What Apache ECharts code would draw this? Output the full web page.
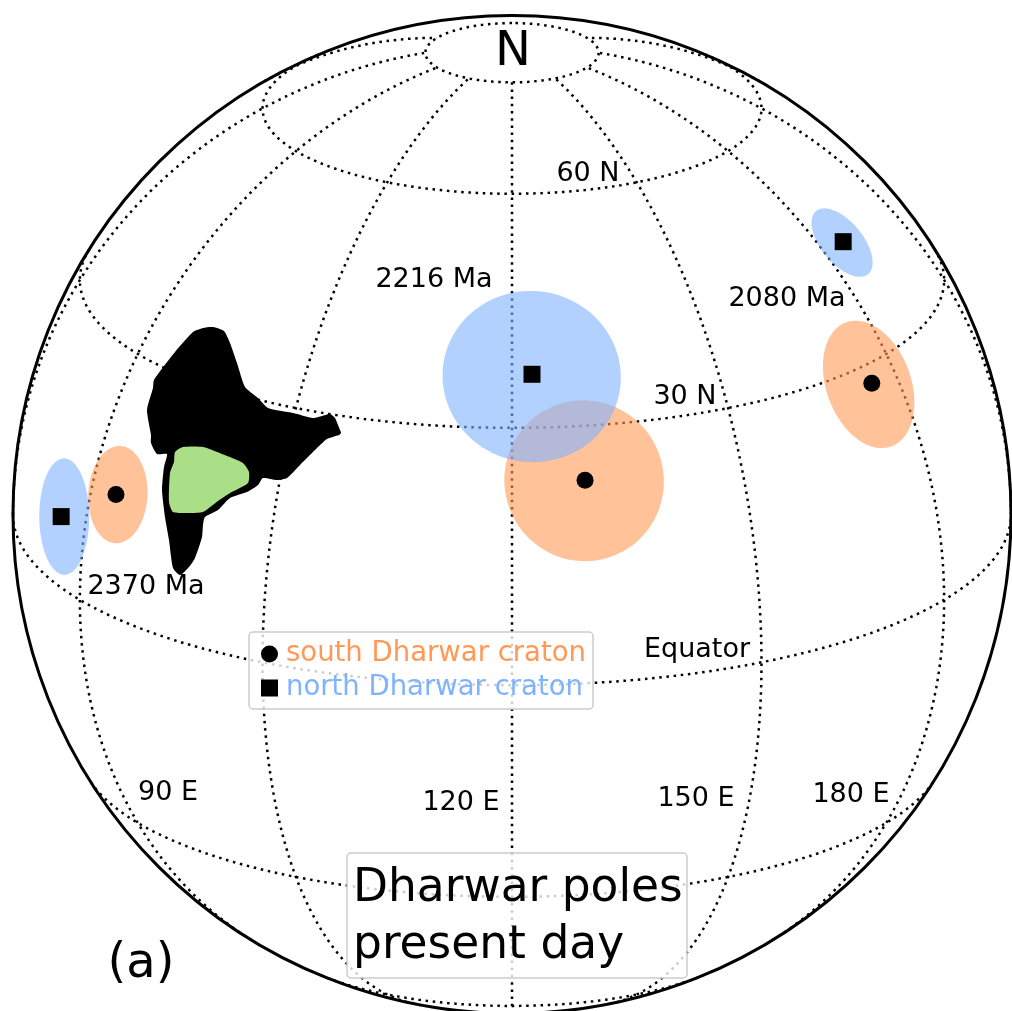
<!DOCTYPE html>
<html>
<head>
<meta charset="utf-8">
<style>
  html, body { margin: 0; padding: 0; background: #fff; }
  #chart { width: 1012px; height: 1011px; }
</style>
<script src="https://cdn.jsdelivr.net/npm/echarts@6/dist/echarts.min.js"></script>
</head>
<body>
<div id="chart"></div>
<script>
// poles: lon E, lat N, A95 radius in degrees
const ages = ['2370 Ma', '2216 Ma', '2080 Ma']
const southLon = [65.05, 129.2, 174.6]
const southLat = [14.2, 23.7, 27.8]
const southA95 = [5.6, 9.3, 7.6]
const northLon = [54.1, 122.85, 186.2]
const northLat = [8.2, 36.3, 43.5]
const northA95 = [6.7, 10.3, 4.7]

// graticule
const meridians = [0, 30, 60, 90, 120, 150, 180, 210, 240]
const parallels = [-60, -30, 0, 30, 60, 80]

// view of the globe (page units of the hidden axes)
const centerLon = 120
const centerLat = 20
const globeX = 512
const globeY = 514.5
const globeR = 499

// India outline and Dharwar craton, in axis units
const indiaX = [193, 203, 213, 224, 230, 237, 245, 258, 268, 293, 313, 322, 330, 335, 338, 341, 339, 327, 315, 300, 287, 277, 263, 258, 247, 230, 218, 205, 203, 202, 195, 189, 180, 173, 169, 165, 162, 164, 167, 157, 151, 151, 147, 153, 154, 175]
const indiaY = [332, 328, 327, 331, 343, 363, 387, 398, 408, 413, 418, 416, 414, 418, 425, 433, 435, 439, 450, 465, 478, 480, 478, 485, 492, 498, 510, 517, 525, 537, 558, 567, 575, 568, 540, 517, 490, 467, 454, 454, 443, 435, 410, 388, 380, 352]
const cratonX = [175, 183, 203, 227, 243, 249, 248, 230, 218, 203, 188, 173, 169, 170, 174]
const cratonY = [452, 447, 447, 456, 463, 472, 483, 493, 501, 512, 513, 512, 502, 473, 462]

// text labels
const labelTexts = ['N', '60 N', '30 N', 'Equator', '90 E', '120 E', '150 E', '180 E', ages[1], ages[2], ages[0], '(a)']
const labelX = [513, 588, 685, 697, 168, 461, 696, 851, 434, 787, 146, 141]
const labelY = [53, 174, 397, 650, 793, 803, 799, 795, 280, 299, 587, 965]
const labelSize = [48, 27, 27, 27, 27, 27, 27, 27, 27, 27, 27, 48]

const font = 'DejaVu Sans'
const orange = '#ff9955'
const blue = '#80b3ff'
const rad = Math.PI / 180

// orthographic view vector: [right, up, towards viewer]
function view(lon, lat) {
  const d = (lon - centerLon) * rad
  const p = lat * rad
  const p0 = centerLat * rad
  return [
    Math.cos(p) * Math.sin(d),
    Math.cos(p0) * Math.sin(p) - Math.sin(p0) * Math.cos(p) * Math.cos(d),
    Math.sin(p0) * Math.sin(p) + Math.cos(p0) * Math.cos(p) * Math.cos(d),
  ]
}
function toAxis(v) {
  return [globeX + globeR * v[0], globeY - globeR * v[1]]
}

// line through the visible part of the globe, null where it goes behind
function graticuleLine(fn, from, to) {
  const out = []
  for (let t = from; t <= to; t += 1) {
    const v = fn(t)
    out.push(v[2] >= 0 ? toAxis(v) : [null, null])
  }
  return out
}

function a95Circle(lon, lat, a95) {
  const p = view(lon, lat)
  let e1 = [p[1], -p[0], 0]
  const len = Math.hypot(e1[0], e1[1]) || 1
  e1 = [e1[0] / len, e1[1] / len, 0]
  const e2 = [p[1] * e1[2] - p[2] * e1[1], p[2] * e1[0] - p[0] * e1[2], p[0] * e1[1] - p[1] * e1[0]]
  const ca = Math.cos(a95 * rad)
  const sa = Math.sin(a95 * rad)
  const pts = []
  for (let t = 0; t < 360; t += 4) {
    const c = Math.cos(t * rad)
    const s = Math.sin(t * rad)
    pts.push(toAxis([0, 1, 2].map((i) => p[i] * ca + sa * (e1[i] * c + e2[i] * s))))
  }
  return pts
}

function polygonSeries(name, xs, ys, color, z) {
  return {
    name: name,
    type: 'custom',
    coordinateSystem: 'cartesian2d',
    silent: true,
    z: z,
    data: xs.map((x, i) => [x, ys[i]]),
    renderItem: function (params, api) {
      if (params.dataIndex !== 0) return
      return {
        type: 'polygon',
        shape: { points: xs.map((x, i) => api.coord([x, ys[i]])), smooth: 0.2 },
        style: { fill: color },
      }
    },
  }
}

function a95Series(name, lons, lats, a95s, color, z) {
  return {
    name: name,
    type: 'custom',
    coordinateSystem: 'cartesian2d',
    silent: true,
    z: z,
    data: lons.map((lon, i) => toAxis(view(lon, lats[i]))),
    renderItem: function (params, api) {
      const i = params.dataIndex
      const pts = a95Circle(lons[i], lats[i], a95s[i])
      return {
        type: 'polygon',
        shape: { points: pts.map((q) => api.coord(q)) },
        style: { fill: color, opacity: 0.6 },
      }
    },
  }
}

const series = []
const dotted = { color: '#000', width: 2.5, type: [2.5, 4.7] }

meridians.forEach((lon) => {
  series.push({
    type: 'line', silent: true, showSymbol: false, z: 1, lineStyle: dotted,
    data: graticuleLine((lat) => view(lon, lat), -80, 80),
  })
})
parallels.forEach((lat) => {
  series.push({
    type: 'line', silent: true, showSymbol: false, z: 1, lineStyle: dotted,
    data: graticuleLine((lon) => view(lon, lat), -60, 300),
  })
})

series.push({
  type: 'custom',
  coordinateSystem: 'cartesian2d',
  silent: true,
  z: 1,
  data: [[globeX, globeY]],
  renderItem: function (params, api) {
    const c = api.coord([globeX, globeY])
    return {
      type: 'circle',
      shape: { cx: c[0], cy: c[1], r: api.size([globeR, 0])[0] },
      style: { fill: 'none', stroke: '#000', lineWidth: 3 },
    }
  },
})

series.push(polygonSeries('india', indiaX, indiaY, '#000', 2))
series.push(polygonSeries('craton', cratonX, cratonY, '#aade87', 3))
series.push(a95Series('south a95', southLon, southLat, southA95, orange, 4))
series.push(a95Series('north a95', northLon, northLat, northA95, blue, 5))

series.push({
  name: 'south Dharwar craton',
  type: 'scatter',
  symbol: 'circle',
  symbolSize: 17,
  itemStyle: { color: '#000', opacity: 1 },
  silent: true,
  z: 6,
  data: southLon.map((lon, i) => toAxis(view(lon, southLat[i]))),
})
series.push({
  name: 'north Dharwar craton',
  type: 'scatter',
  symbol: 'square',
  symbolSize: 17,
  itemStyle: { color: '#000', opacity: 1 },
  silent: true,
  z: 6,
  data: northLon.map((lon, i) => toAxis(view(lon, northLat[i]))),
})

series.push({
  type: 'custom',
  coordinateSystem: 'cartesian2d',
  silent: true,
  z: 7,
  data: labelTexts.map((t, i) => [labelX[i], labelY[i]]),
  renderItem: function (params, api) {
    const i = params.dataIndex
    const c = api.coord([labelX[i], labelY[i]])
    return {
      type: 'text',
      style: {
        x: c[0], y: c[1], text: labelTexts[i], fill: '#000',
        font: labelSize[i] + 'px "' + font + '"',
        align: 'center', verticalAlign: 'middle',
      },
    }
  },
})

const chart = echarts.init(document.getElementById('chart'), null, { renderer: 'canvas' })
chart.setOption({
  animation: false,
  backgroundColor: '#fff',
  title: {
    text: 'Dharwar poles\npresent day',
    left: 347,
    top: 853,
    padding: [8, 4, 3, 6],
    backgroundColor: 'rgba(255,255,255,0.8)',
    borderColor: '#ccc',
    borderWidth: 1.5,
    borderRadius: 4,
    textStyle: { fontFamily: font, fontSize: 45.5, fontWeight: 'normal', color: '#000', lineHeight: 57 },
  },
  legend: {
    left: 249,
    top: 632,
    orient: 'vertical',
    align: 'left',
    padding: [8, 7, 7, 12],
    itemGap: 6,
    itemWidth: 17,
    itemHeight: 17,
    backgroundColor: 'rgba(255,255,255,0.8)',
    borderColor: '#ccc',
    borderWidth: 1.5,
    borderRadius: 4,
    textStyle: { fontFamily: font, fontSize: 27.5, padding: [2, 0, 0, 3] },
    data: [
      { name: 'south Dharwar craton', icon: 'circle', textStyle: { color: orange } },
      { name: 'north Dharwar craton', icon: 'square', textStyle: { color: blue } },
    ],
  },
  tooltip: { show: false },
  grid: { left: 0, right: 0, top: 0, bottom: 0 },
  xAxis: { type: 'value', min: 0, max: 1012, show: false },
  yAxis: { type: 'value', min: 0, max: 1011, inverse: true, show: false },
  series: series,
})
</script>
</body>
</html>
